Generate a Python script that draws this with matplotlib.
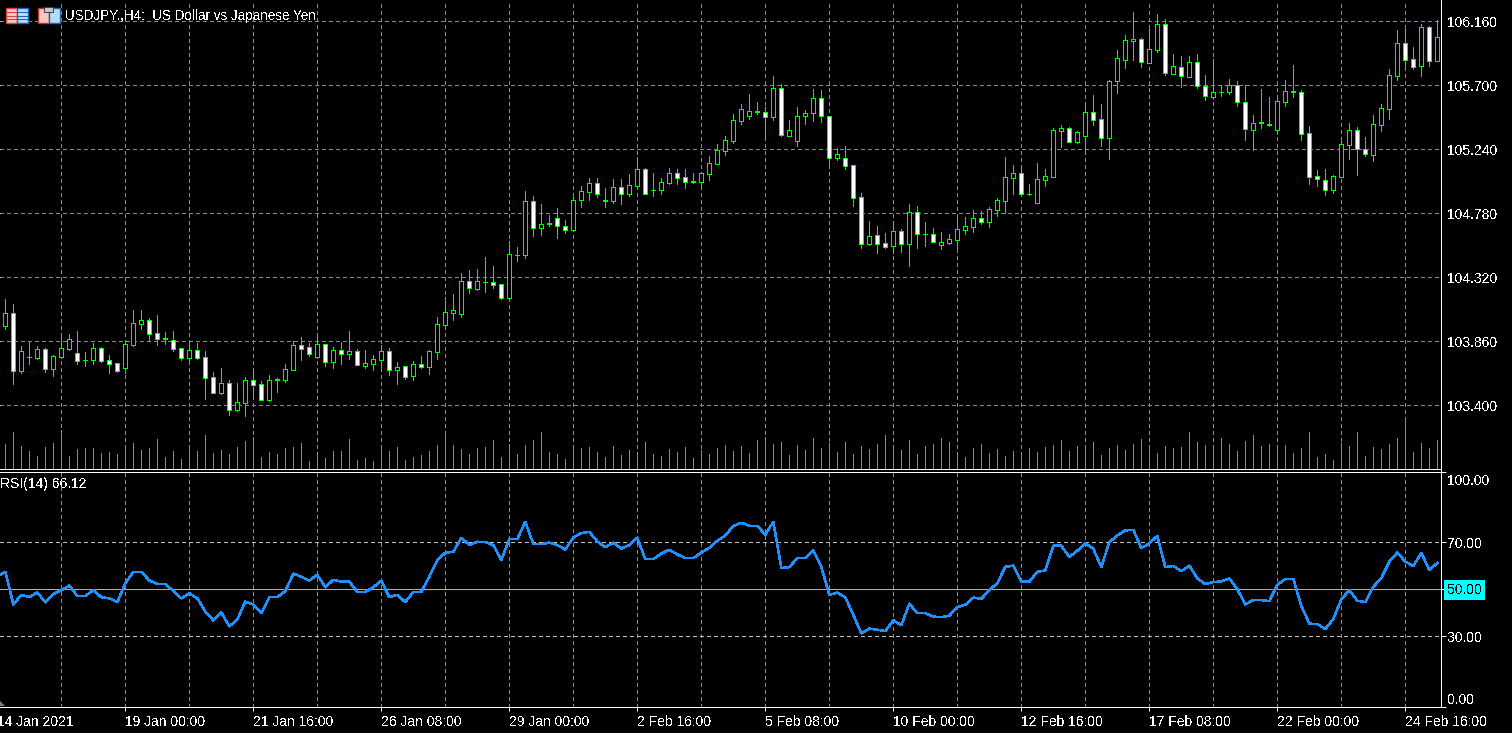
import numpy as np
import matplotlib
matplotlib.use('Agg')
import matplotlib.pyplot as plt
from matplotlib.patches import Rectangle, Polygon

# candles, H4 bars
opens = [103.973,104.062,103.649,103.750,103.742,103.802,103.658,103.750,103.807,103.774,
         103.728,103.728,103.810,103.723,103.702,103.670,103.836,103.987,104.011,103.918,
         103.884,103.867,103.810,103.742,103.795,103.745,103.601,103.490,103.558,103.368,
         103.418,103.579,103.550,103.440,103.586,103.584,103.656,103.831,103.817,103.750,
         103.838,103.714,103.795,103.771,103.788,103.685,103.699,103.728,103.788,103.656,
         103.680,103.613,103.694,103.678,103.786,103.980,104.066,104.059,104.292,104.239,
         104.289,104.285,104.270,104.174,104.484,104.477,104.868,104.671,104.707,104.746,
         104.688,104.657,104.874,104.936,104.996,104.876,104.871,104.967,104.922,104.979,
         105.097,104.950,104.950,104.998,105.068,105.039,105.010,105.008,105.066,105.138,
         105.231,105.303,105.447,105.476,105.512,105.507,105.469,105.680,105.339,105.303,
         105.476,105.498,105.608,105.478,105.181,105.176,105.126,104.895,104.562,104.622,
         104.564,104.547,104.650,104.562,104.787,104.633,104.629,104.554,104.569,104.590,
         104.662,104.684,104.744,104.718,104.806,104.871,105.037,105.068,104.921,104.857,
         105.022,105.044,105.375,105.392,105.294,105.339,105.507,105.457,105.318,105.728,
         105.882,106.017,106.031,105.863,105.957,106.139,105.784,105.830,105.762,105.866,
         105.698,105.618,105.654,105.654,105.700,105.578,105.381,105.433,105.424,105.381,
         105.582,105.656,105.650,105.354,105.045,105.023,104.949,105.042,105.273,105.376,
         105.239,105.201,105.417,105.532,105.770,106.002,105.887,105.842,106.118,105.878]
closes = [104.062,103.649,103.788,103.745,103.802,103.658,103.752,103.810,103.874,103.721,
          103.724,103.810,103.721,103.699,103.649,103.838,103.990,104.011,103.915,103.879,
          103.880,103.807,103.742,103.795,103.742,103.598,103.490,103.558,103.370,103.421,
          103.579,103.548,103.440,103.579,103.582,103.658,103.831,103.807,103.771,103.838,
          103.714,103.795,103.771,103.788,103.692,103.702,103.730,103.788,103.656,103.673,
          103.606,103.694,103.678,103.788,103.982,104.069,104.083,104.292,104.242,104.292,
          104.285,104.268,104.174,104.486,104.480,104.868,104.671,104.702,104.703,104.686,
          104.657,104.875,104.938,104.996,104.922,104.872,104.967,104.922,104.982,105.097,
          104.922,104.946,105.003,105.068,105.037,105.008,105.006,105.068,105.140,105.234,
          105.306,105.450,105.529,105.514,105.508,105.471,105.680,105.346,105.378,105.478,
          105.500,105.608,105.476,105.181,105.205,105.123,104.893,104.562,104.614,104.562,
          104.540,104.650,104.562,104.787,104.634,104.629,104.576,104.571,104.593,104.665,
          104.686,104.744,104.720,104.809,104.874,105.039,105.068,104.922,104.917,105.025,
          105.046,105.378,105.392,105.296,105.363,105.507,105.454,105.318,105.730,105.897,
          106.026,106.031,105.866,105.959,106.139,105.786,105.837,105.765,105.866,105.698,
          105.621,105.650,105.650,105.700,105.582,105.383,105.426,105.429,105.412,105.585,
          105.657,105.652,105.352,105.042,105.028,104.949,105.045,105.275,105.376,105.239,
          105.208,105.419,105.534,105.772,106.002,105.885,105.834,106.118,105.878,106.046]
highs = [104.165,104.129,103.826,103.855,103.826,103.812,103.761,103.906,103.913,103.934,
         103.783,103.846,103.819,103.761,103.704,103.862,104.086,104.086,104.028,104.050,
         103.927,103.934,103.810,103.848,103.848,103.790,103.639,103.668,103.582,103.560,
         103.603,103.661,103.574,103.618,103.598,103.697,103.860,103.891,103.848,103.903,
         103.838,103.817,103.858,103.932,103.802,103.795,103.759,103.831,103.810,103.711,
         103.680,103.716,103.754,103.795,104.035,104.177,104.198,104.352,104.374,104.381,
         104.465,104.400,104.270,104.578,104.537,104.940,104.904,104.849,104.770,104.820,
         104.731,104.897,104.977,105.032,105.034,104.962,105.027,105.027,105.063,105.183,
         105.106,105.070,105.034,105.106,105.099,105.099,105.070,105.075,105.193,105.279,
         105.337,105.495,105.567,105.639,105.582,105.543,105.769,105.711,105.452,105.546,
         105.524,105.675,105.668,105.478,105.250,105.265,105.126,104.926,104.725,104.689,
         104.638,104.722,104.667,104.847,104.833,104.718,104.674,104.646,104.631,104.768,
         104.754,104.804,104.797,104.826,104.890,105.186,105.128,105.118,104.991,105.142,
         105.099,105.394,105.416,105.402,105.373,105.572,105.632,105.567,105.740,105.954,
         106.062,106.228,106.043,106.103,106.214,106.178,105.926,105.911,105.911,105.926,
         105.774,105.887,105.702,105.746,105.731,105.700,105.486,105.674,105.616,105.630,
         105.738,105.846,105.666,105.407,105.090,105.098,105.054,105.326,105.429,105.400,
         105.328,105.484,105.566,105.815,106.098,106.106,105.976,106.142,106.127,106.170]
lows = [103.949,103.553,103.634,103.697,103.733,103.639,103.610,103.740,103.798,103.697,
        103.682,103.697,103.711,103.632,103.639,103.634,103.826,103.949,103.860,103.834,
        103.841,103.790,103.726,103.711,103.733,103.445,103.486,103.481,103.330,103.358,
        103.322,103.452,103.438,103.430,103.495,103.567,103.654,103.726,103.757,103.742,
        103.685,103.670,103.699,103.733,103.690,103.670,103.654,103.673,103.620,103.555,
        103.591,103.584,103.670,103.625,103.735,103.946,104.016,104.035,104.210,104.232,
        104.218,104.246,104.165,104.172,104.434,104.462,104.614,104.621,104.686,104.606,
        104.642,104.652,104.828,104.876,104.898,104.826,104.854,104.847,104.905,104.955,
        104.919,104.905,104.919,104.991,104.991,104.962,104.998,104.962,105.020,105.135,
        105.200,105.286,105.423,105.459,105.495,105.308,105.452,105.337,105.337,105.265,
        105.423,105.445,105.438,105.135,105.164,105.099,104.833,104.530,104.552,104.494,
        104.530,104.492,104.502,104.401,104.530,104.545,104.574,104.523,104.559,104.533,
        104.631,104.646,104.703,104.682,104.761,104.780,104.919,104.905,104.912,104.854,
        104.977,105.042,105.258,105.294,105.286,105.207,105.416,105.265,105.171,105.646,
        105.825,105.882,105.834,105.858,105.940,105.777,105.782,105.688,105.760,105.681,
        105.597,105.604,105.623,105.638,105.551,105.306,105.237,105.393,105.407,105.350,
        105.551,105.616,105.306,104.990,104.975,104.910,104.925,105.040,105.170,105.054,
        105.191,105.155,105.371,105.458,105.738,105.825,105.818,105.767,105.842,105.878]

volumes = [74,110,68,53,38,65,77,116,38,59,62,62,47,50,44,59,77,56,62,89,
           35,53,29,62,53,101,47,56,44,65,83,95,35,50,44,62,65,77,23,41,
           32,53,53,89,26,32,23,59,53,65,26,35,41,53,71,113,71,59,44,62,
           65,86,35,76,44,71,86,110,50,44,29,62,62,65,
           50,35,68,41,56,47,80,44,38,59,50,65,32,56,44,62,71,53,68,47,
           86,95,74,80,41,71,56,92,62,77,50,80,44,68,59,74,101,65,56,86,
           44,68,74,92,80,44,35,62,74,47,59,38,53,44,62,50,65,71,86,53,
           68,59,80,41,62,71,56,74,89,59,47,68,62,65,110,80,71,59,92,74,
           53,83,101,68,74,59,71,47,
           62,110,35,44,26,77,68,110,38,65,59,74,92,146,50,77,62,86]

# first value belongs to the bar just left of the window
rsi = [55.4,57.5,43.6,47.7,46.7,48.7,44.5,48.0,49.7,51.6,47.2,47.2,49.7,46.7,46.2,44.6,
       52.6,57.5,57.5,53.8,52.4,52.4,49.3,46.2,48.3,46.2,40.6,36.8,40.2,34.3,37.2,44.8,
       43.6,39.9,46.7,46.7,49.3,56.7,55.4,53.8,56.2,50.9,54.1,53.3,53.3,49.0,49.0,50.9,
       53.7,46.7,47.7,44.6,49.0,49.0,55.4,62.5,65.6,66.0,72.0,68.9,70.3,70.1,68.9,62.5,
       71.4,71.4,78.8,69.3,69.3,69.9,68.9,67.0,72.1,74.0,74.5,70.4,68.0,69.9,67.4,68.9,
       72.0,62.9,62.9,65.3,66.9,64.9,63.3,63.3,65.7,67.7,70.7,73.0,77.0,78.4,77.1,77.1,
       73.3,78.8,59.1,59.5,63.3,63.3,66.6,59.6,47.7,48.6,46.6,39.1,31.3,33.3,32.8,32.3,
       36.8,34.8,43.9,39.9,39.9,38.4,38.2,38.8,42.5,43.5,46.5,46.0,49.7,52.6,59.6,60.1,
       53.3,53.3,57.5,58.1,68.6,68.6,63.8,66.5,69.6,67.3,59.6,70.1,73.0,75.1,75.4,67.6,
       69.6,72.8,59.5,60.0,57.8,60.1,54.7,52.3,53.1,53.4,54.7,50.1,43.6,45.5,45.5,45.0,
       52.0,54.4,54.5,43.0,35.4,35.3,33.1,37.4,45.7,49.7,45.2,44.6,51.1,54.8,61.8,65.7,
       61.8,60.0,65.6,58.2,61.3]

price_ticks = [103.40, 103.86, 104.32, 104.78, 105.24, 105.70, 106.16]
rsi_ticks = [0, 30, 50, 70, 100]
date_labels = ['14 Jan 2021', '19 Jan 00:00', '21 Jan 16:00', '26 Jan 08:00', '29 Jan 00:00',
               '2 Feb 16:00', '5 Feb 08:00', '10 Feb 00:00', '12 Feb 16:00', '17 Feb 08:00',
               '22 Feb 00:00', '24 Feb 16:00']
date_bars = [-1, 15, 31, 47, 63, 79, 95, 111, 127, 143, 159, 175]
grid_bars = list(range(7, 180, 8))

GRID = '#7f8b97'
LIME = '#00ff00'
PX = 0.72  # one pixel in points

plt.rcParams['font.family'] = ['Liberation Sans', 'DejaVu Sans']
plt.rcParams['font.size'] = 10
plt.rcParams['text.antialiased'] = False
plt.rcParams['lines.scale_dashes'] = False

W, H = 1512, 733
fig = plt.figure(figsize=(W / 100, H / 100), dpi=100, facecolor='black')


def place(top, bottom):
    a = fig.add_axes([0, 1 - bottom / H, 1440.5 / W, (bottom - top) / H], facecolor='black')
    a.set_xlim(-0.666, 179.4)
    for s in a.spines.values():
        s.set_visible(False)
    a.tick_params(left=False, labelleft=False, labelbottom=False, right=True, labelright=False,
                  bottom=False, color='white', width=PX, length=3.6)
    for b in grid_bars:
        a.axvline(b, color=GRID, lw=PX, ls=(0, (2.2, 2.2)), antialiased=False, zorder=0)
    return a


# price panel
ax = place(0, 469)
ax.set_ylim(102.9424, 106.3133)
ax.set_yticks(price_ticks)
for p in price_ticks:
    ax.axhline(p, color=GRID, lw=PX, ls=(0, (2.2, 2.2)), antialiased=False, zorder=0)
    ax.annotate('%.3f' % p, (1, p), xycoords=ax.get_yaxis_transform(), xytext=(7, -2),
                textcoords='offset pixels', color='white', va='center', ha='left',
                annotation_clip=False)

xs = np.arange(len(opens))
o = np.array(opens)
c = np.array(closes)
ax.vlines(xs, lows, highs, color=LIME, lw=PX, antialiased=False, zorder=2)
ax.bar(xs, np.abs(c - o), bottom=np.minimum(o, c), width=0.5,
       color=['black' if cl > op else 'white' for op, cl in zip(o, c)],
       edgecolor=LIME, linewidth=PX, antialiased=False, zorder=3)

# tick volume shares the price panel, from its bottom edge
vol = ax.twinx()
vol.set_ylim(0, 1407)
vol.set_yticks([])
for s in vol.spines.values():
    s.set_visible(False)
vol.vlines(xs, 0, volumes, color='#32cd32', lw=PX, antialiased=False)

# RSI panel
ax2 = place(472, 707)
ax2.set_ylim(-0.07, 99.93)
ax2.set_yticks(rsi_ticks)
for lev in (30, 70):
    ax2.axhline(lev, color='#c0c0c0', lw=PX, ls=(0, (2.2, 2.2)), antialiased=False, zorder=0)
ax2.axhline(50, color='#40e0d0', lw=PX, antialiased=False, zorder=1)
ax2.plot(np.arange(len(rsi)) - 1, rsi, color='#1e90ff', lw=1.1, antialiased=False, zorder=2)

label_shift = {0: 7, 100: -9, 70: -2, 30: -2, 50: -1}
for v in rsi_ticks:
    style = dict(color='white')
    if v == 50:
        style = dict(color='black', bbox=dict(fc='#00ffff', ec='none', pad=2.2))
    ax2.annotate('%.2f' % v, (1, v), xycoords=ax2.get_yaxis_transform(),
                 xytext=(7, label_shift[v]), textcoords='offset pixels',
                 va='center', ha='left', annotation_clip=False, **style)

ax2.set_xticks(date_bars[1:])
ax2.tick_params(bottom=True, length=3.2, axis='x')
for b, t in zip(date_bars, date_labels):
    ax2.annotate(t, (b, 0), xycoords=ax2.get_xaxis_transform(), xytext=(0, -15),
                 textcoords='offset pixels', color='white', ha='left', va='center',
                 annotation_clip=False)

# frame lines, title, the two terminal icons
top = fig.add_axes([0, 0, 1, 1], facecolor='none')
top.set_xlim(0, W)
top.set_ylim(H, 0)
top.axis('off')
top.plot([1440.5, 1440.5], [0, 707], color='white', lw=PX, antialiased=False)
for y in (469, 471.5, 706.8):
    top.plot([0, 1440.5], [y, y], color='white', lw=PX, antialiased=False)
top.add_patch(Polygon([(0, 701), (5, 706), (0, 706)], fc='#708090', ec='none'))
top.text(65, 16, 'USDJPY.,H4:  US Dollar vs Japanese Yen', color='white', va='center', ha='left',
         fontsize=9.75)
top.text(0, 484, 'RSI(14) 66.12', color='white', va='center', ha='left')

top.add_patch(Rectangle((6, 8), 11, 15, fc='#f8c8c0', ec='#e03c3c', lw=1))
top.add_patch(Rectangle((17, 8), 11, 15, fc='#b8dcf4', ec='#1868b0', lw=1))
for y in (12, 16, 19):
    top.plot([7, 16], [y, y], color='#e03c3c', lw=PX, antialiased=False)
    top.plot([18, 27], [y, y], color='#1868b0', lw=PX, antialiased=False)
top.add_patch(Rectangle((38, 8), 11, 15, fc='#f8c8c0', ec='#c03030', lw=1))
top.add_patch(Rectangle((49, 8), 11, 15, fc='#b8dcf4', ec='#1868b0', lw=1))
top.add_patch(Rectangle((44, 7), 9, 5, fc='#c8c8c8', ec='#404040', lw=0.7))

fig.savefig('out.png', dpi=100, facecolor='black')
